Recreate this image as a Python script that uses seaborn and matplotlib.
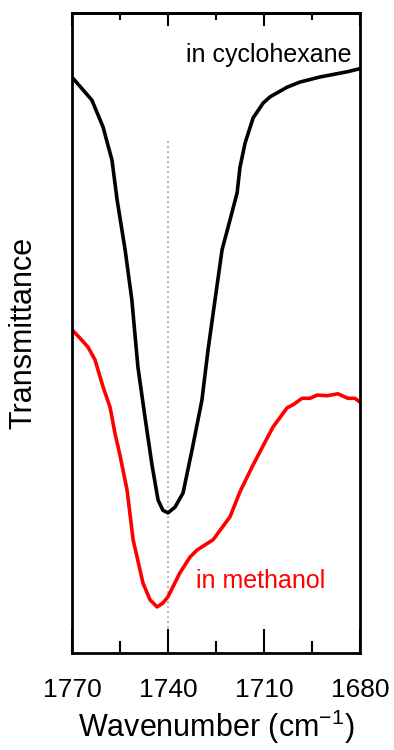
import pandas as pd
import matplotlib
matplotlib.use("Agg")
from matplotlib import pyplot as plt
from matplotlib.ticker import MultipleLocator
import seaborn as sns

# IR spectra, C=O stretch region (transmittance in arbitrary units)
wn_cyclohexane = [1769.7, 1763.8, 1760.3, 1757.5, 1755.9, 1753.4, 1751.3, 1749.4, 1747.2,
                  1745.0, 1743.1, 1741.6, 1740.0, 1737.8, 1735.3, 1732.5, 1729.4, 1727.5,
                  1725.3, 1723.1, 1720.6, 1718.4, 1717.5, 1715.9, 1713.4, 1710.3, 1708.1,
                  1702.8, 1698.8, 1692.5, 1684.1, 1680.0]
t_cyclohexane = [89.8, 86.4, 82.2, 77.0, 70.8, 63.0, 55.2, 44.7, 36.9,
                 29.4, 23.9, 22.3, 21.9, 22.8, 25.0, 31.7, 39.5, 47.3,
                 55.2, 63.0, 67.7, 71.9, 75.9, 79.7, 83.6, 85.9, 86.9,
                 88.4, 89.2, 90.0, 90.8, 91.3]

wn_methanol = [1770.0, 1767.5, 1765.0, 1762.8, 1760.3, 1758.1, 1756.6, 1755.0, 1752.8,
               1750.9, 1747.8, 1745.6, 1743.4, 1741.6, 1740.0, 1736.3, 1733.1, 1730.9,
               1725.9, 1720.6, 1717.5, 1713.4, 1711.3, 1707.2, 1702.8, 1700.9, 1698.1,
               1695.6, 1693.4, 1690.3, 1686.9, 1683.8, 1681.6, 1680.0]
t_methanol = [50.5, 49.2, 47.8, 45.8, 41.6, 38.4, 34.4, 30.9, 25.5,
              17.7, 10.9, 8.3, 7.2, 7.8, 8.8, 12.5, 15.0, 16.1,
              17.7, 21.3, 25.2, 29.4, 31.4, 35.3, 38.3, 38.8, 39.8,
              39.8, 40.3, 40.2, 40.5, 39.8, 39.8, 39.2]

peak_wn = 1740
peak_line_top = 80.5

df = pd.concat([
    pd.DataFrame({"wn": wn_cyclohexane, "T": t_cyclohexane, "solvent": "in cyclohexane"}),
    pd.DataFrame({"wn": wn_methanol, "T": t_methanol, "solvent": "in methanol"}),
])

sns.set_style("ticks", {"axes.edgecolor": "black", "text.color": "black",
                        "xtick.color": "black", "axes.labelcolor": "black"})
plt.rcParams["font.family"] = ["Liberation Sans", "DejaVu Sans"]
plt.rcParams["mathtext.fontset"] = "custom"
plt.rcParams["mathtext.rm"] = "Liberation Sans"
plt.rcParams["mathtext.default"] = "rm"

fig = plt.figure(figsize=(3.94, 7.5), dpi=100)
ax = fig.add_axes([0.1827, 0.1293, 0.731, 0.8534])

sns.lineplot(data=df, x="wn", y="T", hue="solvent", sort=False,
             palette={"in cyclohexane": "black", "in methanol": "#ff0000"},
             legend=False, ax=ax)
for line in ax.lines:
    line.set_linewidth(2.6)
    line.set_solid_joinstyle("round")
    line.set_solid_capstyle("round")

ax.plot([peak_wn, peak_wn], [0, peak_line_top], ls=(0, (1, 2)), color="0.6", lw=1.2, zorder=0)

ax.text(1682.5, 93.4, "in cyclohexane", ha="right", va="center", fontsize=18, color="black")
ax.text(1731.3, 11.3, "in methanol", ha="left", va="center", fontsize=18, color="#ff0000")

ax.set_xlim(1770, 1680)
ax.set_ylim(0, 100)
ax.set_yticks([])
ax.xaxis.set_major_locator(MultipleLocator(30))
ax.xaxis.set_minor_locator(MultipleLocator(15))
ax.tick_params(axis="x", which="major", direction="in", length=17, width=1.5,
               labelsize=19, pad=18, colors="black")
ax.tick_params(axis="x", which="minor", direction="in", length=9, width=1.5, colors="black")

top = ax.secondary_xaxis("top")
top.xaxis.set_major_locator(MultipleLocator(30))
top.xaxis.set_minor_locator(MultipleLocator(15))
top.tick_params(axis="x", which="major", direction="in", length=9.5, width=1.5,
                labeltop=False, colors="black")
top.tick_params(axis="x", which="minor", direction="in", length=5, width=1.5, colors="black")
top.spines["top"].set_linewidth(2)
top.spines["top"].set_color("black")

for s in ax.spines.values():
    s.set_linewidth(2)
    s.set_color("black")
    s.set_visible(True)

ax.set_xlabel("Wavenumber (cm$^{-1}$)", fontsize=22, labelpad=4)
ax.set_ylabel("Transmittance", fontsize=22, labelpad=24)

plt.savefig("out.png", dpi=100)
